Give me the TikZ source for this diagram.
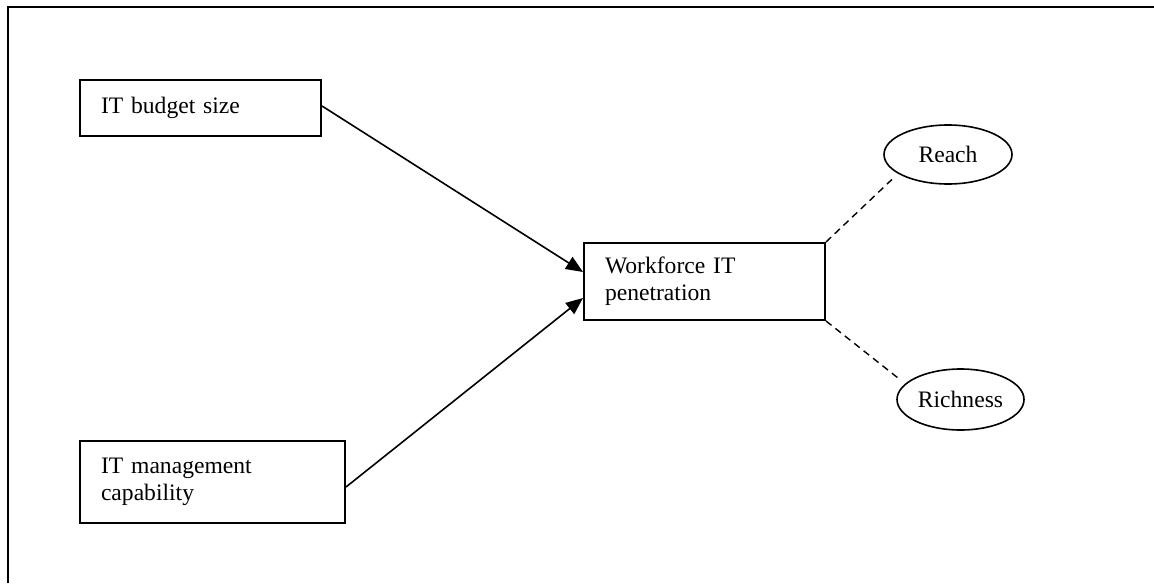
\documentclass[tikz,border=0pt]{standalone}
\usepackage{fontspec}
\setmainfont{Liberation Serif}
\usetikzlibrary{arrows.meta,shapes.geometric}
\begin{document}
\begin{tikzpicture}[x=0.5pt,y=-0.5pt,
  every node/.style={font=\fontsize{11.8}{13.5}\selectfont},
  box/.style={draw,line width=1pt,rectangle,align=left,inner xsep=10.5pt,inner ysep=0pt},
  oval/.style={draw,line width=0.8pt,ellipse,inner sep=0pt},
  link/.style={line width=0.8pt,-{Triangle[length=8.5pt,width=7pt]}},
  assoc/.style={line width=0.7pt,dash pattern=on 3.5pt off 2.5pt,shorten >=3pt}]
  \useasboundingbox (0,0) rectangle (1154,583);
  % open frame: left and top edges only
  \draw[line width=1pt] (7.5,583) -- (7.5,7.5) -- (1154,7.5);

  \node[box,text width=99.5pt,minimum height=28pt] (budget) at (200.5,108) {IT budget size};
  \node[box,text width=111.5pt,minimum height=41pt] (mgmt) at (212.5,482) {IT management\\capability};
  \node[box,text width=99.5pt,minimum height=38.5pt] (wf) at (704.5,281.5) {Workforce IT\\penetration};
  \node[oval,minimum width=64pt,minimum height=29.5pt] (reach) at (948,154.5) {Reach};
  \node[oval,minimum width=63.5pt,minimum height=30.5pt] (rich) at (960.5,399.5) {Richness};

  \coordinate (in1) at ([yshift=4.75pt]wf.west);
  \coordinate (in2) at ([yshift=-8.25pt]wf.west);
  \coordinate (out1) at ([yshift=1pt]budget.east);
  \coordinate (out2) at ([yshift=-2.5pt]mgmt.east);

  \draw[link] (out1) -- (in1);
  \draw[link] (out2) -- (in2);
  \draw[assoc] (wf.north east) -- (reach.201);
  \draw[assoc] (wf.south east) -- (rich.164);
\end{tikzpicture}
\end{document}
